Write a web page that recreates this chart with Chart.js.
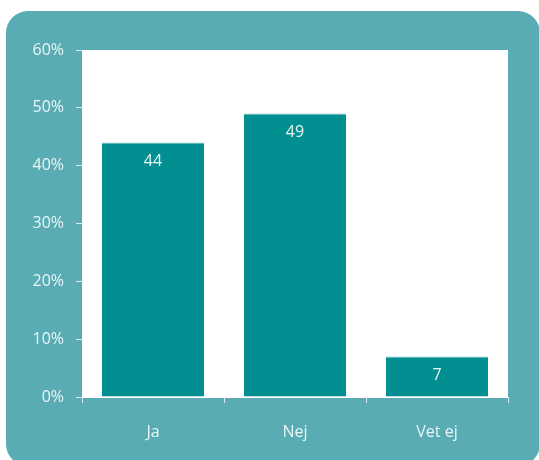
<!DOCTYPE html>
<html>
<head>
<meta charset="utf-8">
<script src="https://cdn.jsdelivr.net/npm/chart.js@4.4.1/dist/chart.umd.min.js"></script>
<style>
  html, body { margin: 0; padding: 0; background: #ffffff; overflow: hidden; }
  #panel {
    position: absolute; left: 6px; top: 11px; width: 534px; height: 455px;
    background: #5aacb4; border-radius: 22px;
  }
  #wrap { position: absolute; left: 0; top: 0; width: 539px; height: 460px; }
</style>
</head>
<body>
<div id="panel"></div>
<div id="wrap"><canvas id="chart" width="539" height="460"></canvas></div>
<script>
// Answers and share of respondents (%)
const categories = ['Ja', 'Nej', 'Vet ej'];
const shares = [44, 49, 7];
const yTicks = [0, 10, 20, 30, 40, 50, 60];

const tealBar = '#028f91';
const lightText = '#eaf5f6';

// White plotting area behind the bars
const plotBackground = {
    id: 'plotBackground',
    beforeDraw(chart) {
        const { ctx, chartArea: a } = chart;
        ctx.save();
        ctx.fillStyle = '#ffffff';
        ctx.fillRect(a.left, a.top, a.right - a.left, a.bottom - a.top);
        ctx.restore();
    }
};

// Value written inside the top of each bar
const barValues = {
    id: 'barValues',
    afterDatasetsDraw(chart) {
        const { ctx } = chart;
        const meta = chart.getDatasetMeta(0);
        ctx.save();
        ctx.fillStyle = lightText;
        ctx.font = '16px "Open Sans"';
        ctx.textAlign = 'center';
        ctx.textBaseline = 'middle';
        meta.data.forEach((bar, i) => {
            ctx.fillText(String(shares[i]), bar.x, bar.y + 19);
        });
        ctx.restore();
    }
};

new Chart(document.getElementById('chart'), {
    type: 'bar',
    data: {
        labels: categories,
        datasets: [{
            data: shares,
            backgroundColor: tealBar,
            borderColor: '#7cc3c6',
            borderWidth: { top: 1, left: 0, right: 0, bottom: 0 },
            barPercentage: 0.72,
            categoryPercentage: 1
        }]
    },
    options: {
        responsive: false,
        animation: false,
        layout: { padding: { left: 0, right: 31, top: 50, bottom: 0 } },
        plugins: {
            legend: { display: false },
            tooltip: { enabled: false }
        },
        scales: {
            x: {
                grid: {
                    offset: true,
                    drawOnChartArea: false,
                    color: '#d6ecee',
                    tickLength: 6
                },
                border: { color: '#ffffff', width: 1 },
                ticks: {
                    color: lightText,
                    font: { family: 'Open Sans', size: 16 },
                    padding: 20
                },
                afterFit(scale) { scale.height = 63; }
            },
            y: {
                min: 0,
                max: 60,
                afterBuildTicks(scale) {
                    scale.ticks = yTicks.map(v => ({ value: v }));
                },
                grid: {
                    drawOnChartArea: false,
                    color: '#d6ecee',
                    tickLength: 6
                },
                border: { display: false },
                ticks: {
                    color: lightText,
                    font: { family: 'Open Sans', size: 16 },
                    padding: 12,
                    callback: v => v + '%'
                },
                afterFit(scale) { scale.width = 82; }
            }
        }
    },
    plugins: [plotBackground, barValues]
});
</script>
</body>
</html>
